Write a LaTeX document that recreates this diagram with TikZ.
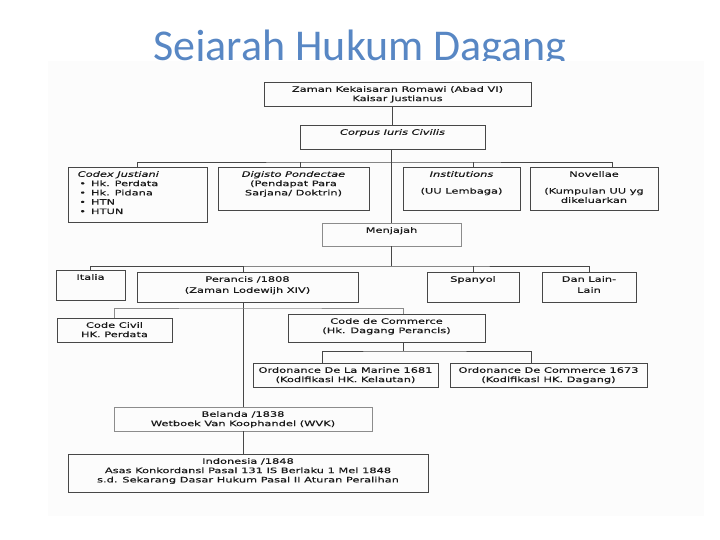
\documentclass[tikz,border=0pt]{standalone}
\usepackage{fontspec}
\newfontfamily\orgfont{DejaVu Sans}[FakeStretch=1.52,FakeBold=0.3]
\newfontfamily\titlefont{Carlito}
\usetikzlibrary{positioning}
\definecolor{titleblue}{RGB}{88,135,196}
\tikzset{
  blk/.style={draw=black!72, line width=0.8pt, inner sep=0pt},
  pale/.style={draw=black!45},
  txt/.style={font=\orgfont\fontsize{7.5}{9.3}\selectfont, align=center,
              inner sep=0pt, text=black!90},
  con/.style={draw=black!72, line width=0.8pt},
}

\begin{document}
\begin{tikzpicture}[x=1pt,y=-1pt]
  \useasboundingbox (0,0) rectangle (720,540);
  \node[font=\titlefont\fontsize{44}{50}\selectfont, text=titleblue, anchor=base,
        inner sep=0pt] (title) at (360,61) {Sejarah Hukum Dagang};
  \fill[black!1] (48,61) rectangle (704,516);

  % boxes
  \node[blk, minimum width=267, minimum height=24] (zaman) at (397.5,94) {};
  \node[blk, minimum width=185, minimum height=24] (corpus) at (392.5,137) {};
  \node[blk, minimum width=139, minimum height=55] (codex) at (137.5,194.5) {};
  \node[blk, minimum width=151, minimum height=43] (digisto) at (293.5,188.5) {};
  \node[blk, minimum width=117, minimum height=43] (inst) at (461.5,188.5) {};
  \node[blk, minimum width=128, minimum height=43] (novel) at (594,188.5) {};
  \node[blk, pale, minimum width=139, minimum height=23] (menjajah) at (391.5,234.5) {};
  \node[blk, minimum width=69, minimum height=30] (italia) at (90.5,285) {};
  \node[blk, minimum width=221, minimum height=30] (perancis) at (247.5,287) {};
  \node[blk, minimum width=92, minimum height=30] (spanyol) at (473,287) {};
  \node[blk, minimum width=94, minimum height=30] (danlain) at (589,287) {};
  \node[blk, minimum width=115, minimum height=24] (civil) at (114.5,330) {};
  \node[blk, minimum width=197, minimum height=28] (commerce) at (386.5,328) {};
  \node[blk, minimum width=185, minimum height=24] (marine) at (345.5,375) {};
  \node[blk, minimum width=197, minimum height=24] (ordcom) at (548.5,375) {};
  \node[blk, pale, minimum width=258, minimum height=24] (belanda) at (243,419) {};
  \node[blk, minimum width=360, minimum height=38] (indonesia) at (248,473) {};

  % texts
  \node[txt, below=4.3pt of zaman.north] (zamanT)
    {Zaman Kekaisaran Romawi (Abad VI)\\Kaisar Justianus};
  \node[txt, below=4.3pt of corpus.north] (corpusT) {\textit{Corpus Iuris Civilis}};
  \node[txt, align=left, below right=4.3pt and 10pt of codex.north west] (codexT)
    {\textit{Codex Justiani}\\
     \kern1.5pt\textbullet\kern5pt Hk. Perdata\\
     \kern1.5pt\textbullet\kern5pt Hk. Pidana\\
     \kern1.5pt\textbullet\kern5pt HTN\\
     \kern1.5pt\textbullet\kern5pt HTUN};
  \node[txt, below=4.3pt of digisto.north] (digistoT)
    {\textit{Digisto Pondectae}\\(Pendapat Para\\Sarjana/ Doktrin)};
  \node[txt, below=4.3pt of inst.north] (instT)
    {\textit{Institutions}\\[7.5pt](UU Lembaga)};
  \node[txt, below=4.3pt of novel.north] (novelT)
    {Novellae\\[7.5pt](Kumpulan UU yg\\dikeluarkan};
  \node[txt, below=4.3pt of menjajah.north] (menjajahT) {Menjajah};
  \node[txt, below=4.3pt of italia.north] (italiaT) {Italia};
  \node[txt, below=4.3pt of perancis.north] (perancisT)
    {Perancis /1808\\[1.7pt](Zaman Lodewijh XIV)};
  \node[txt, below=4.3pt of spanyol.north] (spanyolT) {Spanyol};
  \node[txt, below=4.3pt of danlain.north] (danlainT) {Dan Lain-\\[1.7pt]Lain};
  \node[txt, below=4.3pt of civil.north] (civilT) {Code Civil\\HK. Perdata};
  \node[txt, below=4.3pt of commerce.north] (commerceT)
    {Code de Commerce\\(Hk. Dagang Perancis)};
  \node[txt, below=4.3pt of marine.north] (marineT)
    {Ordonance De La Marine 1681\\(Kodifikasi HK. Kelautan)};
  \node[txt, below=4.3pt of ordcom.north] (ordcomT)
    {Ordonance De Commerce 1673\\(Kodifikasi HK. Dagang)};
  \node[txt, below=4.3pt of belanda.north] (belandaT)
    {Belanda /1838\\Wetboek Van Koophandel (WVK)};
  \node[txt, below=4.3pt of indonesia.north] (indonesiaT)
    {Indonesia /1848\\Asas Konkordansi Pasal 131 IS Berlaku 1 Mei 1848\\
     s.d. Sekarang Dasar Hukum Pasal II Aturan Peralihan};

  % connectors
  \coordinate (bus1) at (392,162);
  \coordinate (bus2) at (392,266);
  \coordinate (bus3) at (242,308);
  \coordinate (bus4) at (403,351);
  \draw[con] (zaman.south -| corpus.north) -- (corpus.north);
  \draw[con] (corpus.south -| menjajah.north) -- (menjajah.north);
  \draw[con] (codex.north) |- (bus1) -| ([xshift=18pt]novel.north);
  \draw[con] ([xshift=6.5pt]digisto.north) -- ++(0,-5);
  \draw[con] ([xshift=11.5pt]inst.north) -- ++(0,-5);
  \draw[con] (menjajah.south) -- (menjajah.south |- bus2);
  \draw[con] (italia.north) |- (bus2) -| (danlain.north);
  \draw[con] (spanyol.north) -- (spanyol.north |- bus2);
  \draw[con] (perancis.north -| belanda.north) -- (belanda.north |- bus2);
  \draw[con] (perancis.south -| belanda.north) -- (belanda.north);
  \draw[con, draw=black!45] (civil.north) |- (bus3) -| ([xshift=16.5pt]commerce.north);
  \draw[con] ([xshift=16.5pt]commerce.south) -- (bus4);
  \draw[con] ([xshift=-23.5pt]marine.north) |- (bus4) -| ([xshift=-17.5pt]ordcom.north);
  \draw[con] (belanda.south) -- (belanda.south |- indonesia.north);
\end{tikzpicture}
\end{document}
